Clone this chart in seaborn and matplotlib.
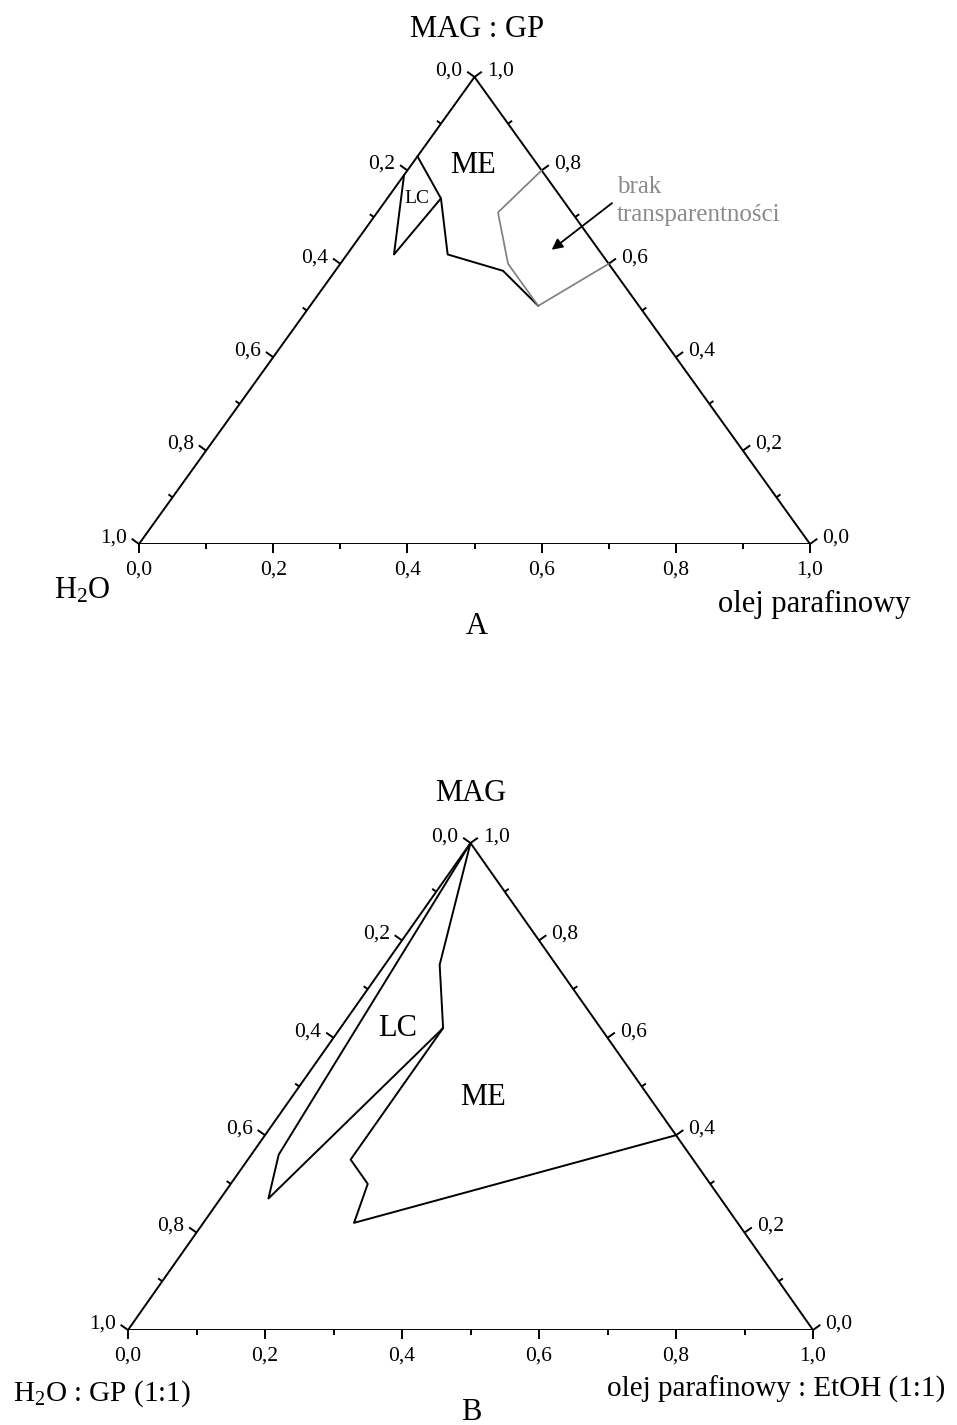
import numpy as np
import pandas as pd
import matplotlib
matplotlib.use("Agg")
import matplotlib.pyplot as plt
import seaborn as sns

# ---------------- data (ternary: olej fraction, MAG fraction) ----------------
# Diagram A
a_me_olej = [0.00, 0.08, 0.15, 0.25, 0.34]
a_me_mag = [0.83, 0.74, 0.62, 0.585, 0.51]
a_lc_olej = [0.00, 0.07, 0.08]
a_lc_mag = [0.79, 0.62, 0.74]
a_grey_olej = [0.20, 0.18, 0.25, 0.34, 0.40]
a_grey_mag = [0.80, 0.71, 0.60, 0.51, 0.60]
a_arrow_tail = (0.34, 0.73)
a_arrow_head = (0.30, 0.63)
# Diagram B
b_lc_olej = [0.00, 0.04, 0.07, 0.15, 0.08, 0.00]
b_lc_mag = [1.00, 0.36, 0.27, 0.62, 0.75, 1.00]
b_me_olej = [0.15, 0.15, 0.20, 0.22, 0.60]
b_me_mag = [0.62, 0.35, 0.30, 0.22, 0.40]

major_vals = [0.0, 0.2, 0.4, 0.6, 0.8, 1.0]
major_labels = ["0,0", "0,2", "0,4", "0,6", "0,8", "1,0"]
minor_vals = [0.1, 0.3, 0.5, 0.7, 0.9]

# ---------------- style ----------------
sns.set_theme(style="white")
plt.rcParams["font.family"] = ["Liberation Serif", "DejaVu Serif"]
plt.rcParams["mathtext.fontset"] = "custom"
plt.rcParams["mathtext.rm"] = "Liberation Serif"
plt.rcParams["mathtext.it"] = "Liberation Serif:italic"

W, H = 957, 1425
fig = plt.figure(figsize=(W / 100, H / 100), dpi=100)
fig.patch.set_facecolor("white")

LW = 1.4
TICK_FS = 15.5
BIG_FS = 22


def add_ax(left, top, right, bottom):
    ax = fig.add_axes([left / W, 1 - bottom / H, (right - left) / W, (bottom - top) / H])
    ax.set_xlim(0, 1)
    ax.set_ylim(0, 1)
    ax.axis("off")
    return ax


def cart(olej, mag):
    olej = np.asarray(olej, float)
    mag = np.asarray(mag, float)
    return olej + mag / 2.0, mag


def line(ax, olej, mag, color="black", lw=LW):
    x, y = cart(olej, mag)
    df = pd.DataFrame({"x": x, "y": y})
    sns.lineplot(data=df, x="x", y="y", sort=False, estimator=None,
                 color=color, lw=lw, ax=ax)
    ax.set_xlabel("")
    ax.set_ylabel("")


def frame(ax):
    line(ax, [0, 1, 0, 0], [0, 0, 1, 0])
    T = ax.transData
    inv = T.inverted()
    p0 = T.transform((0, 0))
    p1 = T.transform((1, 0))
    p2 = T.transform((0.5, 1))

    dl = p2 - p0
    nl = np.array([-dl[1], dl[0]]) / np.hypot(*dl)
    dr = p2 - p1
    nr = np.array([dr[1], -dr[0]]) / np.hypot(*dr)
    nb = np.array([0.0, -1.0])

    axes_def = [
        (lambda v: p2 + v * (p0 - p2), nl, "left"),
        (lambda v: p1 + v * (p2 - p1), nr, "right"),
        (lambda v: p0 + v * (p1 - p0), nb, "bottom"),
    ]
    for pos, n, side in axes_def:
        for vals, ln in ((major_vals, 9), (minor_vals, 5)):
            for v in vals:
                a = pos(v)
                b = a + n * ln
                da, db = inv.transform(a), inv.transform(b)
                ax.plot([da[0], db[0]], [da[1], db[1]], color="black",
                        lw=LW, clip_on=False, solid_capstyle="butt")
        for v, lab in zip(major_vals, major_labels):
            a = pos(v)
            b = a + n * 9
            if side == "left":
                tp = b + np.array([-5, 1])
                ha, va = "right", "center"
            elif side == "right":
                tp = b + np.array([5, 1])
                ha, va = "left", "center"
            else:
                tp = a + np.array([0, -17])
                ha, va = "center", "top"
            d = inv.transform(tp)
            ax.text(d[0], d[1], lab, ha=ha, va=va, fontsize=TICK_FS,
                    color="black", clip_on=False)


def ftext(x, y, s, fs=BIG_FS, ha="center", va="baseline", color="black"):
    fig.text(x / W, 1 - y / H, s, fontsize=fs, ha=ha, va=va, color=color)


# ---------------- Diagram A ----------------
axA = add_ax(139, 77, 810, 544)
frame(axA)
line(axA, a_lc_olej, a_lc_mag)
line(axA, a_me_olej, a_me_mag)
line(axA, a_grey_olej, a_grey_mag, color="#808080", lw=1.25)
tx, ty = cart(*a_arrow_tail)
hx, hy = cart(*a_arrow_head)
axA.annotate("", xy=(hx, hy), xytext=(tx, ty), xycoords="data",
             arrowprops=dict(arrowstyle="-|>", color="black", lw=1.3,
                             mutation_scale=16, shrinkA=0, shrinkB=0))

ftext(477, 37, "MAG : GP")
ftext(473, 173, "ME")
ftext(417, 203, "LC", fs=14)
ftext(617, 193, "brak", fs=18, ha="left", color="#8a8a8a")
ftext(617, 221, "transparentności", fs=18, ha="left", color="#8a8a8a")
ftext(82, 598, r"H$_\mathrm{2}$O")
ftext(814, 612, "olej parafinowy")
ftext(477, 634, "A")

# ---------------- Diagram B ----------------
axB = add_ax(128, 843, 813, 1330)
frame(axB)
line(axB, b_lc_olej, b_lc_mag)
line(axB, b_me_olej, b_me_mag)

ftext(471, 801, "MAG")
ftext(398, 1036, "LC")
ftext(483, 1105, "ME")
ftext(13, 1401, r"H$_\mathrm{2}$O : GP (1:1)", ha="left", fs=21)
ftext(776, 1397, "olej parafinowy : EtOH (1:1)", fs=21)
ftext(471, 1420, "B")

fig.savefig("out.png", dpi=100, facecolor="white")
